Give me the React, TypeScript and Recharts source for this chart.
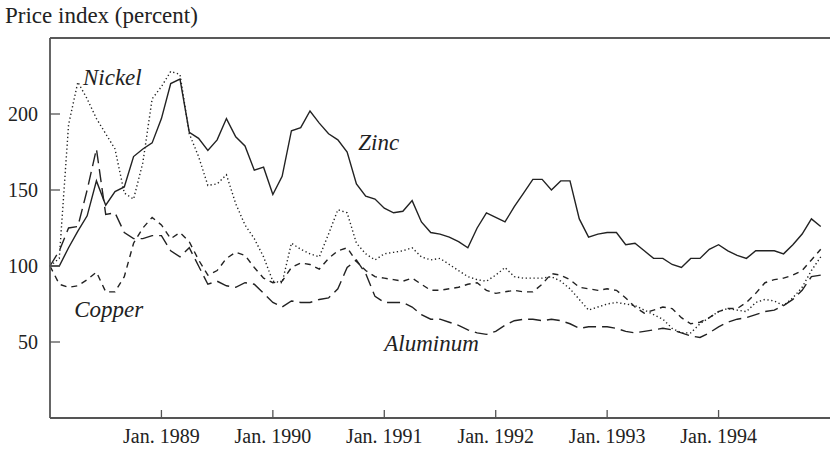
import React from 'react';
import { LineChart, Line, XAxis, YAxis, ReferenceLine, ReferenceDot } from 'recharts';

// months since Jan. 1988 (0 = Jan. 1988, 83 = Dec. 1994)
const monthIndex = Array.from({ length: 84 }, (_, i) => i);

const zinc = [
  100, 100, 112, 123, 133, 156, 140, 149, 152, 172, 177, 181,
  197, 220, 223, 188, 184, 176, 183, 197, 185, 179, 163, 165,
  147, 159, 189, 191, 202, 194, 187, 183, 175, 154, 146, 144,
  138, 135, 136, 143, 129, 122, 121, 119, 116, 112, 125, 135,
  132, 129, 139, 148, 157, 157, 150, 156, 156, 131, 119, 121,
  122, 122, 114, 115, 110, 105, 105, 101, 99, 105, 105, 111,
  114, 110, 107, 105, 110, 110, 110, 108, 114, 121, 131, 126,
];

const nickel = [
  100, 105, 193, 221, 210, 197, 187, 177, 148, 144, 168, 210,
  218, 228, 226, 187, 172, 153, 154, 160, 141, 127, 118, 106,
  90, 89, 115, 111, 108, 106, 121, 137, 135, 115, 108, 104,
  108, 109, 110, 112, 106, 104, 105, 101, 97, 93, 91, 90,
  94, 99, 93, 92, 92, 92, 93, 90, 85, 78, 71, 73,
  75, 76, 75, 74, 71, 68, 65, 59, 56, 56, 62, 66,
  70, 72, 71, 70, 76, 78, 77, 74, 79, 86, 97, 106,
];

const copper = [
  100, 88, 86, 87, 91, 96, 83, 83, 93, 115, 125, 132,
  127, 118, 122, 116, 104, 94, 97, 105, 109, 107, 99, 92,
  89, 90, 99, 102, 101, 98, 105, 110, 112, 103, 97, 93,
  92, 91, 90, 92, 88, 84, 84, 85, 86, 88, 89, 84,
  82, 83, 84, 83, 83, 88, 95, 94, 91, 86, 85, 84,
  85, 84, 79, 73, 69, 71, 73, 72, 66, 62, 63, 66,
  70, 72, 72, 76, 82, 89, 91, 92, 94, 97, 104, 111,
];

const aluminum = [
  100, 110, 125, 126, 150, 177, 134, 135, 122, 118, 118, 120,
  120, 110, 106, 112, 100, 88, 90, 87, 86, 89, 88, 82,
  76, 73, 77, 76, 76, 78, 79, 85, 99, 104, 95, 80,
  76, 76, 76, 73, 68, 65, 65, 63, 61, 58, 56, 55,
  57, 61, 64, 65, 65, 64, 65, 64, 62, 59, 60, 60,
  60, 59, 57, 56, 57, 58, 59, 58, 56, 54, 53, 56,
  60, 63, 65, 66, 68, 70, 71, 74, 78, 84, 93, 94,
];

const yearTicks = [12, 24, 36, 48, 60, 72];
const yearLabels = ['Jan. 1989', 'Jan. 1990', 'Jan. 1991', 'Jan. 1992', 'Jan. 1993', 'Jan. 1994'];
const valueTicks = [50, 100, 150, 200];

const data = monthIndex.map((m, i) => ({
  m,
  zinc: zinc[i],
  nickel: nickel[i],
  copper: copper[i],
  aluminum: aluminum[i],
}));

const FONT = "'Liberation Serif', 'Times New Roman', serif";
const AXIS = '#555';
const INK = '#222';

const XTick = (props: any) => {
  const { x, y, payload } = props;
  const label = yearLabels[yearTicks.indexOf(payload.value)];
  return (
    <g>
      <line x1={x} x2={x} y1={y} y2={y - 8} stroke={AXIS} strokeWidth={1.3} />
      <text x={x} y={y + 25} textAnchor="middle" fontFamily={FONT} fontSize={20} fill={INK}>
        {label}
      </text>
    </g>
  );
};

const YTick = (props: any) => {
  const { x, y, payload } = props;
  return (
    <g>
      <line x1={x} x2={x + 10} y1={y} y2={y} stroke={AXIS} strokeWidth={1.3} />
      <text x={x - 12} y={y + 6.5} textAnchor="end" fontFamily={FONT} fontSize={20} fill={INK}>
        {payload.value}
      </text>
    </g>
  );
};

// italic series name, written to the right of its anchor point
const seriesLabel = (text: string) => (props: any) => {
  const { viewBox } = props;
  return (
    <text
      x={viewBox.x}
      y={viewBox.y + 7}
      fontFamily={FONT}
      fontStyle="italic"
      fontSize={23}
      fill={INK}
    >
      {text}
    </text>
  );
};

export default function App() {
  return (
    <div style={{ position: 'absolute', left: 0, top: 0, width: 830, height: 452, background: '#fff' }}>
      <div
        style={{
          position: 'absolute',
          left: 5,
          top: 4,
          fontFamily: FONT,
          fontSize: 23,
          lineHeight: '23px',
          color: INK,
          whiteSpace: 'nowrap',
        }}
      >
        Price index (percent)
      </div>
      <LineChart width={830} height={452} data={data} margin={{ top: 38, right: 0, bottom: 0, left: 0 }}>
        <XAxis
          type="number"
          dataKey="m"
          domain={[0, 84]}
          ticks={yearTicks}
          interval={0}
          height={34}
          tickSize={0}
          tickMargin={0}
          tickLine={false}
          axisLine={{ stroke: AXIS, strokeWidth: 1.8 }}
          tick={<XTick />}
        />
        <YAxis
          type="number"
          domain={[0, 250]}
          ticks={valueTicks}
          interval={0}
          width={50}
          tickSize={0}
          tickMargin={0}
          tickLine={false}
          axisLine={{ stroke: AXIS, strokeWidth: 1.8 }}
          tick={<YTick />}
        />
        <ReferenceLine y={250} stroke={INK} strokeWidth={1.5} />
        <Line type="linear" dataKey="zinc" stroke={INK} strokeWidth={1.4} dot={false} isAnimationActive={false} />
        <Line type="linear" dataKey="nickel" stroke={INK} strokeWidth={1.4} strokeDasharray="1.3 2.6" dot={false} isAnimationActive={false} />
        <Line type="linear" dataKey="copper" stroke={INK} strokeWidth={1.4} strokeDasharray="6 5" dot={false} isAnimationActive={false} />
        <Line type="linear" dataKey="aluminum" stroke={INK} strokeWidth={1.4} strokeDasharray="13 6" dot={false} isAnimationActive={false} />
        <ReferenceDot x={3.55} y={223.5} r={0} stroke="none" fill="none" label={seriesLabel('Nickel')} />
        <ReferenceDot x={33.2} y={180.7} r={0} stroke="none" fill="none" label={seriesLabel('Zinc')} />
        <ReferenceDot x={2.6} y={70.9} r={0} stroke="none" fill="none" label={seriesLabel('Copper')} />
        <ReferenceDot x={36.0} y={48.5} r={0} stroke="none" fill="none" label={seriesLabel('Aluminum')} />
      </LineChart>
    </div>
  );
}
